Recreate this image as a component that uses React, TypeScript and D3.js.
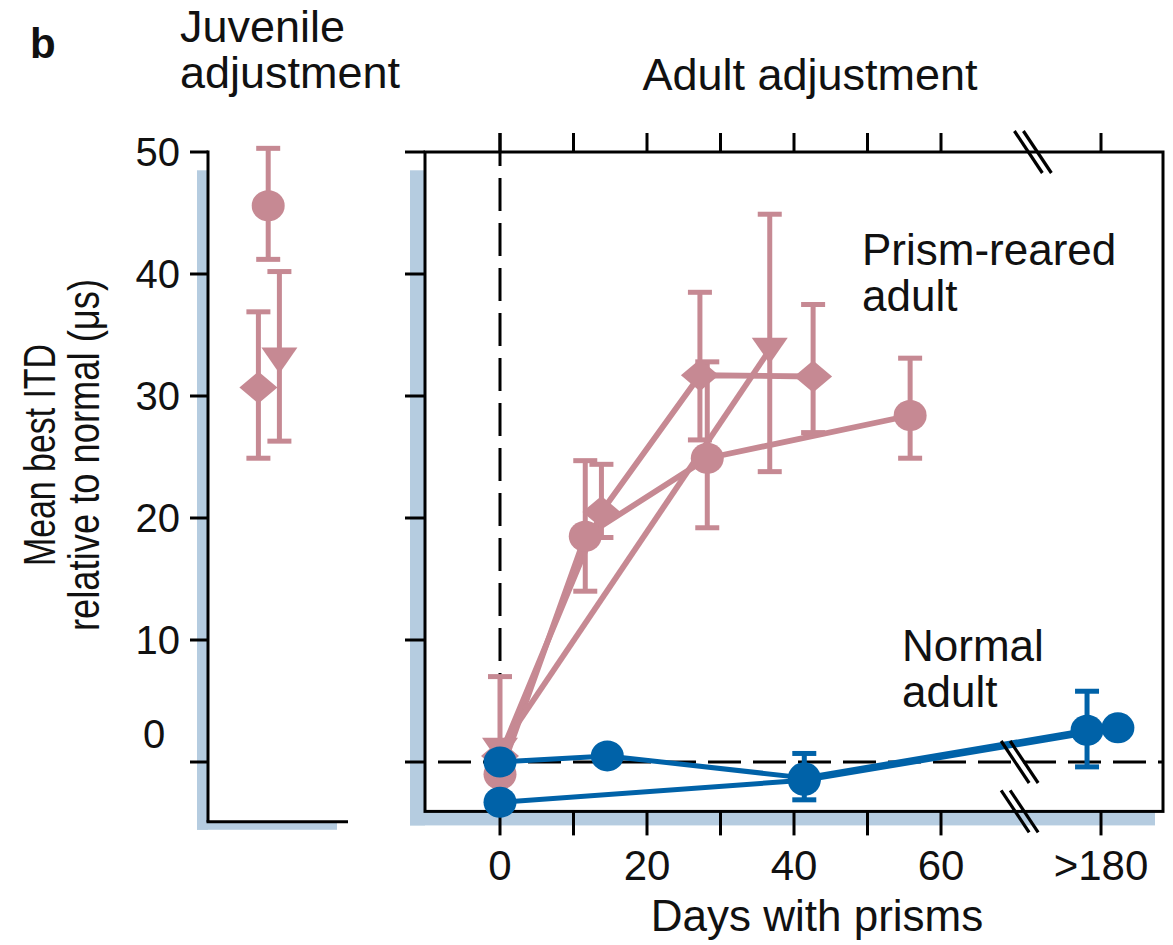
import React from "react";
import * as d3 from "d3";

// ---------- data ----------
const yTicks = [0, 10, 20, 30, 40, 50];
const xTicksMain = [0, 10, 20, 30, 40, 50, 60];
const xTickLabels = [0, 20, 40, 60];
const lateTicks = [180];
const lateTickLabels = [">180"];

// Juvenile adjustment (slot = horizontal jitter position inside panel, 0..1)
const juvShapes = ["diamond", "circle", "triangle"];
const juvSlot = [0.36, 0.43, 0.51];
const juvMean = [30.7, 45.6, 33.0];
const juvLo = [24.9, 41.2, 26.3];
const juvHi = [36.9, 50.3, 40.2];

// Prism-reared adults
const prismCircleDays = [0, 11.6, 28.2, 55.8];
const prismCircleMean = [-1.0, 18.5, 24.9, 28.4];
const prismCircleLo = [null, 14.0, 19.2, 24.9];
const prismCircleHi = [null, 24.7, 32.8, 33.1];

const prismDiamondDays = [0, 13.8, 27.2, 42.6];
const prismDiamondMean = [0.5, 20.5, 31.7, 31.6];
const prismDiamondLo = [null, 18.4, 26.4, 27.0];
const prismDiamondHi = [null, 24.4, 38.5, 37.5];

const prismTriangleDays = [0, 36.7];
const prismTriangleMean = [1.0, 33.8];
const prismTriangleLo = [-3.8, 23.8];
const prismTriangleHi = [7.0, 44.9];

// Normal adults
const normalADays = [0, 14.6, 41.4, 178.1];
const normalAMean = [0, 0.5, -1.3, 2.6];
const normalALo = [null, null, null, -0.4];
const normalAHi = [null, null, null, 5.8];

const normalBDays = [0, 41.4, 182.3];
const normalBMean = [-3.3, -1.5, 2.8];
const normalBLo = [null, -3.1, null];
const normalBHi = [null, 0.7, null];

const breakDayTop = 72.5;
const breakDayMid = 70.7;

// ---------- styles ----------
const PINK = "#C68993";
const BLUE = "#0062A8";
const SHADOW = "#B5CCE0";
const FONT = "'Liberation Sans', Arial, Helvetica, sans-serif";

type Pt = { d: number; v: number; lo: number | null; hi: number | null };
const zip = (days: number[], m: number[], lo: (number | null)[], hi: (number | null)[]): Pt[] =>
  days.map((d, i) => ({ d, v: m[i], lo: lo[i], hi: hi[i] }));

const series = [
  { color: PINK, shape: "circle", pts: zip(prismCircleDays, prismCircleMean, prismCircleLo, prismCircleHi) },
  { color: PINK, shape: "diamond", pts: zip(prismDiamondDays, prismDiamondMean, prismDiamondLo, prismDiamondHi) },
  { color: PINK, shape: "triangle", pts: zip(prismTriangleDays, prismTriangleMean, prismTriangleLo, prismTriangleHi) },
  { color: BLUE, shape: "circle", pts: zip(normalBDays, normalBMean, normalBLo, normalBHi) },
  { color: BLUE, shape: "circle", pts: zip(normalADays, normalAMean, normalALo, normalAHi) },
];

// ---------- scales ----------
const y = d3.scaleLinear().domain([0, 50]).range([762, 152]);
const xMain = d3.scaleLinear().domain([0, 60]).range([500, 941]);
const xLate = d3.scaleLinear().domain([180, 190]).range([1101, 1174.5]);
const xPos = (d: number) => (d >= 150 ? xLate(d) : xMain(d));
const xJuv = d3.scaleLinear().domain([0, 1]).range([208, 348]);

const boxLeft = 425;
const boxRight = 1163;
const boxTop = y(50);
const boxBottom = y(-4.05);
const juvBottom = y(-4.9);

function Marker({ shape, cx, cy, color }: { shape: string; cx: number; cy: number; color: string }) {
  if (shape === "circle") return <ellipse cx={cx} cy={cy} rx={16.5} ry={15.5} fill={color} />;
  const p = d3.path();
  if (shape === "diamond") {
    p.moveTo(cx - 19, cy);
    p.lineTo(cx, cy - 16);
    p.lineTo(cx + 19, cy);
    p.lineTo(cx, cy + 16);
    p.closePath();
  } else {
    p.moveTo(cx - 18, cy - 12);
    p.lineTo(cx + 18, cy - 12);
    p.lineTo(cx, cy + 14);
    p.closePath();
  }
  return <path d={p.toString()} fill={color} />;
}

function ErrorBar({ cx, lo, hi, color }: { cx: number; lo: number; hi: number; color: string }) {
  return (
    <g stroke={color} strokeWidth={5} fill="none">
      <line x1={cx} x2={cx} y1={y(lo)} y2={y(hi)} />
      <line x1={cx - 12} x2={cx + 12} y1={y(lo)} y2={y(lo)} />
      <line x1={cx - 12} x2={cx + 12} y1={y(hi)} y2={y(hi)} />
    </g>
  );
}

function BreakMark({ cx, cy }: { cx: number; cy: number }) {
  return (
    <g stroke="#000" strokeWidth={3.2}>
      {[-4.5, 4.5].map((o) => (
        <line key={o} x1={cx + o - 14} y1={cy - 21} x2={cx + o + 14} y2={cy + 21} />
      ))}
    </g>
  );
}

export default function App() {
  const line = d3
    .line<Pt>()
    .x((p) => xPos(p.d))
    .y((p) => y(p.v));

  const pinkSeries = series.filter((s) => s.color === PINK);
  const blueSeries = series.filter((s) => s.color === BLUE);

  const drawSeries = (list: typeof series, width: number) => (
    <g>
      {list.map((s, i) => (
        <path key={"l" + i} d={line(s.pts) || ""} fill="none" stroke={s.color} strokeWidth={width} strokeLinejoin="round" />
      ))}
      {list.map((s, i) =>
        s.pts.map((p, j) =>
          p.lo != null && p.hi != null ? (
            <ErrorBar key={"e" + i + "-" + j} cx={xPos(p.d)} lo={p.lo} hi={p.hi} color={s.color} />
          ) : null
        )
      )}
      {list.map((s, i) =>
        s.pts.map((p, j) => <Marker key={"m" + i + "-" + j} shape={s.shape} cx={xPos(p.d)} cy={y(p.v)} color={s.color} />)
      )}
    </g>
  );

  const textStyle = { fontFamily: FONT, fill: "#111" };

  return (
    <svg width={1173} height={945} style={{ position: "absolute", left: 0, top: 0, background: "#fff" }}>
      <rect x={0} y={0} width={1173} height={945} fill="#fff" />

      {/* shadows */}
      <rect x={197} y={y(48.5)} width={11} height={juvBottom - y(48.5) + 8} fill={SHADOW} />
      <rect x={197} y={juvBottom} width={140} height={8} fill={SHADOW} />
      <rect x={410} y={y(48.5)} width={15} height={boxBottom - y(48.5) + 14} fill={SHADOW} />
      <rect x={410} y={boxBottom} width={1155 - 410} height={14} fill={SHADOW} />

      {/* juvenile axes */}
      <g stroke="#000" strokeWidth={3}>
        <line x1={208} x2={208} y1={y(50) - 1.5} y2={juvBottom} />
        <line x1={206.5} x2={xJuv(1)} y1={juvBottom} y2={juvBottom} />
        {yTicks.map((t) => (
          <line key={t} x1={190} x2={208} y1={y(t)} y2={y(t)} />
        ))}
      </g>
      {yTicks.map((t) =>
        t === 0 ? (
          <text key={t} x={154} y={y(t) - 14} textAnchor="middle" fontSize={40} style={textStyle}>
            {t}
          </text>
        ) : (
          <text key={t} x={180} y={y(t) + 14} textAnchor="end" fontSize={40} style={textStyle}>
            {t}
          </text>
        )
      )}

      {/* main box */}
      <g stroke="#000" strokeWidth={3} fill="none">
        <rect x={boxLeft} y={boxTop} width={boxRight - boxLeft} height={boxBottom - boxTop} />
        {yTicks.map((t) => (
          <line key={t} x1={405} x2={boxLeft} y1={y(t)} y2={y(t)} />
        ))}
        {xTicksMain.map((t) => (
          <line key={"t" + t} x1={xMain(t)} x2={xMain(t)} y1={boxTop - 19} y2={boxTop} />
        ))}
        {lateTicks.map((t) => (
          <line key={"lt" + t} x1={xLate(t)} x2={xLate(t)} y1={boxTop - 19} y2={boxTop} />
        ))}
        {xTicksMain.map((t) => (
          <line key={"b" + t} x1={xMain(t)} x2={xMain(t)} y1={boxBottom} y2={boxBottom + 24} />
        ))}
        {lateTicks.map((t) => (
          <line key={"lb" + t} x1={xLate(t)} x2={xLate(t)} y1={boxBottom} y2={boxBottom + 24} />
        ))}
      </g>

      {/* dashed reference lines */}
      <g stroke="#000" strokeWidth={3} strokeDasharray="33 12">
        <line x1={xMain(0)} x2={xMain(0)} y1={boxTop - 19} y2={boxBottom} />
        <line x1={438} x2={boxRight} y1={y(0)} y2={y(0)} />
      </g>

      {/* juvenile data */}
      {juvMean.map((v, i) => (
        <g key={"j" + i}>
          <ErrorBar cx={xJuv(juvSlot[i])} lo={juvLo[i]} hi={juvHi[i]} color={PINK} />
          <Marker shape={juvShapes[i]} cx={xJuv(juvSlot[i])} cy={y(v)} color={PINK} />
        </g>
      ))}

      {/* adult data */}
      {drawSeries(pinkSeries, 5.8)}
      {drawSeries(blueSeries, 5)}

      {/* axis breaks */}
      <BreakMark cx={xMain(breakDayTop)} cy={boxTop} />
      <BreakMark cx={xMain(breakDayMid)} cy={y(0)} />
      <BreakMark cx={xMain(breakDayMid)} cy={boxBottom} />

      {/* x tick labels */}
      {xTickLabels.map((t) => (
        <text key={t} x={xMain(t)} y={880} textAnchor="middle" fontSize={42} style={textStyle}>
          {t}
        </text>
      ))}
      {lateTicks.map((t, i) => (
        <text key={t} x={xLate(t)} y={880} textAnchor="middle" fontSize={42} style={textStyle}>
          {lateTickLabels[i]}
        </text>
      ))}

      {/* titles and labels */}
      <text x={30} y={58} fontSize={42} fontWeight="bold" style={textStyle}>
        b
      </text>
      <text x={180} y={42} fontSize={45} style={textStyle}>
        Juvenile
      </text>
      <text x={180} y={88} fontSize={45} style={textStyle}>
        adjustment
      </text>
      <text x={810} y={90} fontSize={45} textAnchor="middle" style={textStyle}>
        Adult adjustment
      </text>
      <text x={862} y={265} fontSize={44} style={textStyle}>
        Prism-reared
      </text>
      <text x={862} y={311} fontSize={44} style={textStyle}>
        adult
      </text>
      <text x={902} y={661} fontSize={44} style={textStyle}>
        Normal
      </text>
      <text x={902} y={707} fontSize={44} style={textStyle}>
        adult
      </text>
      <text x={817} y={931} fontSize={44} textAnchor="middle" style={textStyle}>
        Days with prisms
      </text>
      <g transform="translate(55,455) rotate(-90)">
        <text x={0} y={0} fontSize={44} textAnchor="middle" textLength={222} lengthAdjust="spacingAndGlyphs" style={textStyle}>
          Mean best ITD
        </text>
      </g>
      <g transform="translate(99,455) rotate(-90)">
        <text x={0} y={0} fontSize={44} textAnchor="middle" textLength={352} lengthAdjust="spacingAndGlyphs" style={textStyle}>
          relative to normal (μs)
        </text>
      </g>
    </svg>
  );
}
